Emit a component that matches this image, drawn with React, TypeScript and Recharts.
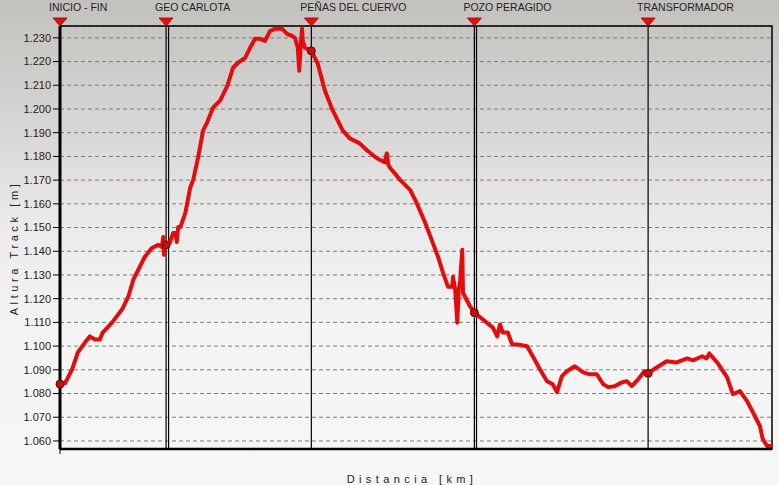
import { LineChart, Line, XAxis, YAxis, CartesianGrid, ReferenceLine, ReferenceDot, ReferenceArea } from 'recharts';

// distance along the track [km] and altitude [m]
const distKm = [
  0, 0.07, 0.17, 0.25, 0.35, 0.42, 0.49, 0.56, 0.6, 0.73,
  0.87, 0.96, 1.03, 1.1, 1.19, 1.29, 1.38, 1.43, 1.45, 1.46,
  1.47, 1.49, 1.54, 1.59, 1.62, 1.64, 1.66, 1.69, 1.76, 1.83,
  1.87, 1.94, 2.01, 2.06, 2.15, 2.25, 2.35, 2.43, 2.5, 2.6,
  2.67, 2.74, 2.81, 2.88, 2.95, 3.02, 3.12, 3.19, 3.26, 3.3,
  3.34, 3.36, 3.38, 3.4, 3.41, 3.44, 3.53, 3.62, 3.72, 3.83,
  3.97, 4.07, 4.21, 4.31, 4.45, 4.56, 4.59, 4.61, 4.63, 4.78,
  4.92, 5.01, 5.13, 5.22, 5.31, 5.38, 5.45, 5.51, 5.52, 5.55,
  5.58, 5.6, 5.62, 5.65, 5.66, 5.76, 5.82, 5.94, 6.08, 6.14,
  6.18, 6.22, 6.29, 6.35, 6.43, 6.56, 6.64, 6.74, 6.84, 6.92,
  6.98, 7.05, 7.12, 7.23, 7.35, 7.44, 7.54, 7.63, 7.7, 7.79,
  7.89, 7.96, 8.03, 8.12, 8.21, 8.26, 8.38, 8.52, 8.66, 8.81,
  8.89, 9.02, 9.08, 9.12, 9.23, 9.37, 9.45, 9.55, 9.65, 9.73,
  9.83, 9.87, 9.93, 10.0,
];

const altM = [
  1084, 1084.3, 1090.2, 1097.3, 1101.5, 1104.1, 1102.8, 1102.8, 1105.7, 1109.9,
  1115.4, 1120.9, 1128.0, 1132.2, 1137.6, 1141.4, 1142.7, 1141.8, 1146.0, 1138.5,
  1142.7, 1142.7, 1143.5, 1147.7, 1147.7, 1143.9, 1150.2, 1150.2, 1156.1, 1167.0,
  1170.0, 1179.6, 1191.0, 1193.9, 1200.6, 1203.6, 1209.8, 1217.4, 1219.5, 1221.6,
  1225.8, 1229.6, 1229.6, 1228.7, 1232.9, 1233.8, 1233.8, 1231.7, 1230.8, 1230.0,
  1225.8, 1216.1, 1226.6, 1233.8, 1228.7, 1225.8, 1224.5, 1219.1, 1207.8, 1199.4,
  1191.0, 1187.6, 1185.5, 1182.6, 1179.2, 1177.5, 1181.3, 1176.6, 1175.4, 1170.0,
  1165.8, 1160.3, 1151.9, 1144.8, 1137.6, 1130.9, 1125.0, 1125.0, 1129.2, 1123.7,
  1109.9, 1123.7, 1127.8, 1140.6, 1122.5, 1116.7, 1114.1, 1111.2, 1107.8, 1104.1,
  1109.1, 1105.7, 1105.7, 1100.7, 1100.7, 1099.9, 1095.7, 1090.2, 1085.2, 1083.9,
  1080.6, 1087.3, 1089.4, 1091.5, 1088.9, 1088.1, 1088.1, 1083.9, 1082.7, 1083.1,
  1084.7, 1085.2, 1083.1, 1086.0, 1089.4, 1088.5, 1091.0, 1093.6, 1093.1, 1094.8,
  1094.0, 1095.7, 1094.8, 1096.9, 1093.1, 1086.8, 1079.7, 1081.0, 1076.8, 1072.2,
  1066.3, 1060.8, 1057.9, 1057.9,
];

const waypointNames = ['INICIO - FIN', 'GEO CARLOTA', 'PEÑAS DEL CUERVO', 'POZO PERAGIDO', 'TRANSFORMADOR'];
const waypointKm = [0, 1.49, 3.53, 5.82, 8.26];
const waypointAlt = [1084, 1142.7, 1224.5, 1114.1, 1088.5];
// waypoints sitting almost on top of another one (drawn as a second line)
const nearWaypointKm = [1.525, 5.85];

const altTicks = [1060, 1070, 1080, 1090, 1100, 1110, 1120, 1130, 1140, 1150, 1160, 1170, 1180, 1190, 1200, 1210, 1220, 1230];

const data = distKm.map((km, i) => ({ km, alt: altM[i] }));

const Y_MIN = 1056.6;
const Y_MAX = 1235;
const FONT = '"Liberation Sans", Arial, sans-serif';

const fmtAlt = (v: number) => `${Math.floor(v / 1000)}.${String(v % 1000).padStart(3, '0')}`;

const App = () => {
  return (
    <div
      style={{
        position: 'absolute',
        left: 0,
        top: 0,
        width: 779,
        height: 485,
        background: 'linear-gradient(to bottom, #c3c1be 0%, #d6d5d3 25%, #ececec 48%, #f4f4f4 70%, #f6f6f6 100%)',
      }}
    >
      <LineChart width={779} height={485} data={data} margin={{ top: 26, right: 7, left: 8, bottom: 26 }}>
        <CartesianGrid vertical={false} stroke="#7c7c7c" strokeDasharray="4 3" />
        <XAxis
          type="number"
          dataKey="km"
          domain={[0, 10]}
          ticks={[0]}
          tickFormatter={() => ''}
          tickSize={5}
          height={10}
          axisLine={{ stroke: '#000', strokeWidth: 2.5 }}
          tickLine={{ stroke: '#000' }}
        />
        <YAxis
          type="number"
          domain={[Y_MIN, Y_MAX]}
          allowDataOverflow
          ticks={altTicks}
          tickFormatter={fmtAlt}
          width={52}
          tickSize={7}
          axisLine={{ stroke: '#000', strokeWidth: 3 }}
          tickLine={{ stroke: '#000' }}
          tick={{ fill: '#222', fontSize: 11, fontFamily: FONT }}
        />
        <ReferenceArea x1={0} x2={10} y1={Y_MIN} y2={Y_MAX} fill="none" stroke="#000" strokeWidth={1.5} />
        {waypointKm.map((km) => (
          <ReferenceLine key={`wl-${km}`} x={km} stroke="#000" strokeWidth={1.2} />
        ))}
        {nearWaypointKm.map((km) => (
          <ReferenceLine key={`nl-${km}`} x={km} stroke="#000" strokeWidth={1.2} />
        ))}
        <Line
          type="linear"
          dataKey="alt"
          stroke="#e30d0d"
          strokeWidth={4}
          strokeLinejoin="round"
          dot={false}
          isAnimationActive={false}
        />
        {waypointKm.map((km, i) => (
          <ReferenceDot
            key={`wd-${km}`}
            x={km}
            y={waypointAlt[i]}
            r={4}
            fill="#c41010"
            stroke="#6a0000"
            strokeWidth={1}
          />
        ))}
        {waypointKm.map((km, i) => (
          <ReferenceDot
            key={`wm-${km}`}
            x={km}
            y={Y_MAX}
            r={0}
            shape={(p: any) => (
              <g>
                <polygon
                  points={`${p.cx - 7},${p.cy - 8} ${p.cx + 7},${p.cy - 8} ${p.cx},${p.cy}`}
                  fill="#e01010"
                  stroke="#a00000"
                  strokeWidth={0.8}
                />
                <text x={p.cx - 11} y={11} fontSize={10.5} fontFamily={FONT} fill="#222">
                  {waypointNames[i]}
                </text>
              </g>
            )}
          />
        ))}
      </LineChart>
      <svg width={779} height={485} style={{ position: 'absolute', left: 0, top: 0, pointerEvents: 'none' }}>
        <text
          x={18}
          y={248}
          transform="rotate(-90 18 248)"
          textAnchor="middle"
          fontSize={11}
          fontFamily={FONT}
          letterSpacing={3.6}
          fill="#222"
        >
          Altura Track [m]
        </text>
        <text x={412} y={483} textAnchor="middle" fontSize={11} fontFamily={FONT} letterSpacing={4.4} fill="#222">
          Distancia [km]
        </text>
      </svg>
    </div>
  );
};

export default App;
